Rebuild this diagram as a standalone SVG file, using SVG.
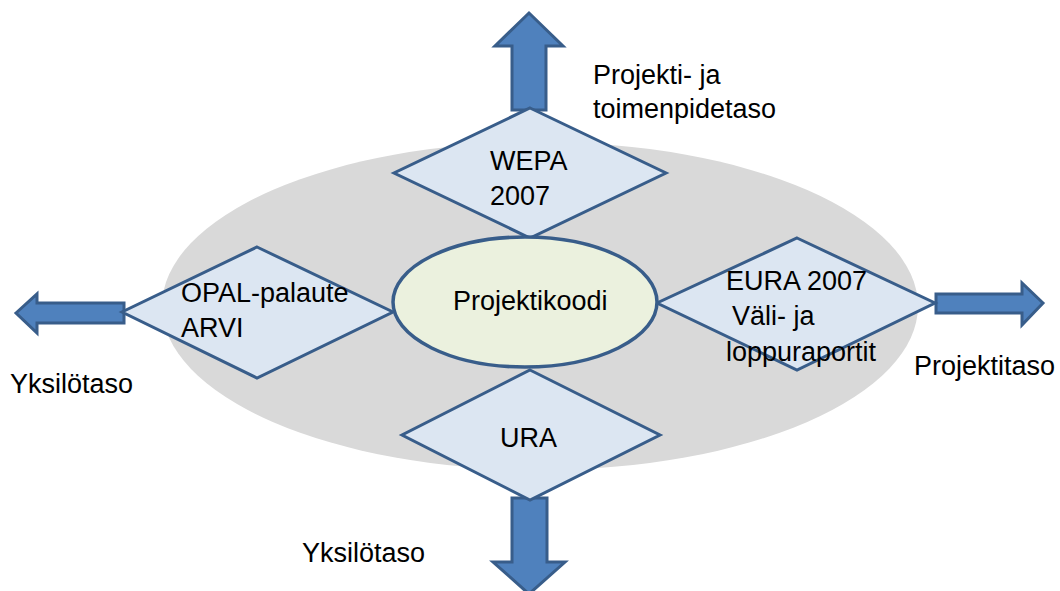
<svg xmlns="http://www.w3.org/2000/svg" width="1060" height="591" viewBox="0 0 1060 591">
<style>
.bg{fill:#d9d9d9;stroke:none}
.arrow{fill:#4f81bd;stroke:#385d8a;stroke-width:3;stroke-linejoin:miter}
.dia{fill:#dce6f2;stroke:#385d8a;stroke-width:3}
.core{fill:#ebf1de;stroke:#385d8a;stroke-width:3.5}
text{font-family:"Liberation Sans",Arial,sans-serif;font-size:27px;fill:#000}
</style>
<rect width="1060" height="591" fill="#fff"/>
<ellipse class="bg" cx="540" cy="306" rx="378" ry="164"/>
<g id="connectors">
<polygon class="arrow" points="529,13 563,46 546,46 546,110 512,110 512,46 495,46"/>
<polygon class="arrow" points="16,313 37,294 37,303 124,303 124,323 37,323 37,333"/>
<polygon class="arrow" points="1043,303 1022,283 1022,294 936,294 936,313 1022,313 1022,325"/>
<polygon class="arrow" points="512,498 547,498 547,562 565,562 529,594 493,562 512,562"/>
</g>
<g id="wepa">
<polygon class="dia" points="530,108 666,173 530,238 394,173"/>
<text x="490" y="170">WEPA</text>
<text x="490" y="205">2007</text>
</g>
<g id="opal">
<polygon class="dia" points="257,247 393,312 257,378 122,312"/>
<text x="181" y="302">OPAL-palaute</text>
<text x="181" y="337">ARVI</text>
</g>
<g id="eura">
<polygon class="dia" points="797,238 935,303 797,370 657,303"/>
<text x="726" y="290">EURA 2007</text>
<text x="732" y="325">Väli- ja</text>
<text x="726" y="361">loppuraportit</text>
</g>
<g id="ura">
<polygon class="dia" points="530,370 660,435 530,500 402,435"/>
<text x="500" y="447">URA</text>
</g>
<g id="projektikoodi">
<ellipse class="core" cx="525" cy="302" rx="132" ry="65"/>
<text x="453" y="310">Projektikoodi</text>
</g>
<g id="labels">
<text x="593" y="84">Projekti- ja</text>
<text x="593" y="118">toimenpidetaso</text>
<text x="10" y="393">Yksilötaso</text>
<text x="914" y="375">Projektitaso</text>
<text x="302" y="562">Yksilötaso</text>
</g>
</svg>
